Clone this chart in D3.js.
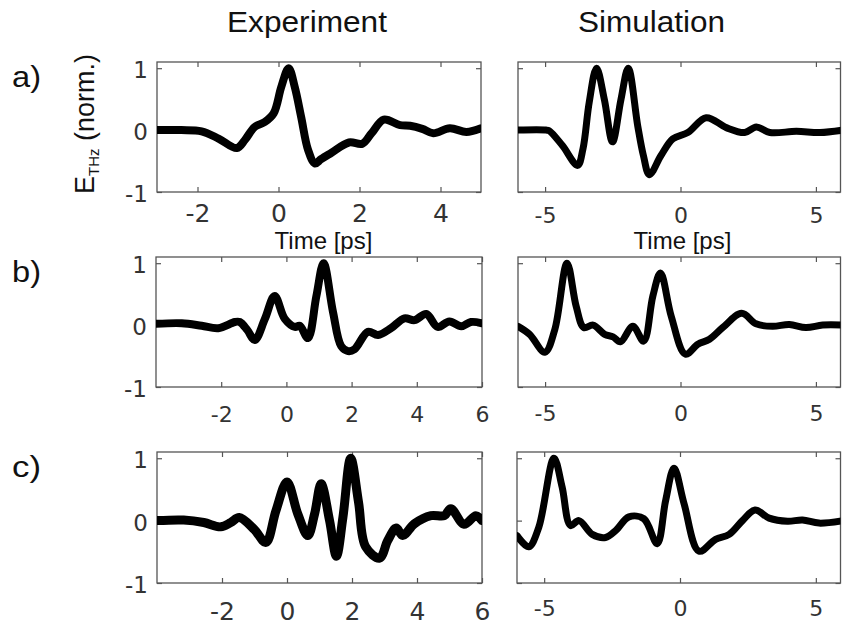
<!DOCTYPE html>
<html>
<head>
<meta charset="utf-8">
<script src="https://cdn.jsdelivr.net/npm/d3@7/dist/d3.min.js"></script>
<style>
  html, body { margin: 0; padding: 0; background: #fff; }
  svg { display: block; }
  .tick text { font-family: "DejaVu Sans", sans-serif; fill: #333; }
  .tick line { stroke: #555; }
  .lbl { font-family: "Liberation Sans", Arial, sans-serif; fill: #111; }
</style>
</head>
<body>
<svg id="chart" width="842" height="626"></svg>
<script>
// ---- THz field transients, normalised (time in ps) ----
const expA_t = [-3, -2.4, -1.9, -1.47, -1.03, -0.83, -0.59, -0.34, -0.12, 0.07, 0.25, 0.4, 0.56, 0.73, 0.9, 1.05, 1.3, 1.74, 2.07, 2.3, 2.6, 3.0, 3.25, 3.55, 3.82, 4.23, 4.64, 5];
const expA_v = [0, 0, -0.02, -0.14, -0.29, -0.16, 0.05, 0.13, 0.27, 0.7, 1.0, 0.7, 0.21, -0.32, -0.54, -0.47, -0.37, -0.2, -0.22, -0.05, 0.17, 0.08, 0.07, 0.02, -0.05, 0.03, -0.03, 0.03];

const simA_t = [-6, -4.97, -4.85, -4.36, -3.8, -3.6, -3.37, -3.1, -2.81, -2.51, -2.2, -1.93, -1.58, -1.37, -1.15, -0.72, -0.28, 0.27, 0.95, 1.69, 2.37, 2.8, 3.3, 4.28, 5.15, 6];
const simA_v = [0, 0, -0.01, -0.25, -0.57, -0.3, 0.45, 1.0, 0.49, -0.19, 0.49, 1.0, 0.07, -0.41, -0.72, -0.41, -0.14, -0.04, 0.2, 0.04, -0.04, 0.05, -0.04, -0.02, -0.04, 0];

const expB_t = [-4, -3.21, -2.6, -2.09, -1.58, -1.43, -1.2, -0.97, -0.66, -0.36, -0.05, 0.26, 0.41, 0.66, 0.92, 1.14, 1.43, 1.68, 1.89, 2.09, 2.5, 2.81, 3.21, 3.62, 3.93, 4.29, 4.64, 5.0, 5.36, 5.66, 6];
const expB_v = [0.02, 0.03, -0.01, -0.05, 0.05, 0.05, -0.08, -0.24, 0.1, 0.47, 0.1, -0.03, -0.01, -0.21, 0.47, 1.0, 0.21, -0.34, -0.42, -0.39, -0.11, -0.16, -0.05, 0.11, 0.08, 0.18, -0.03, 0.06, -0.02, 0.05, 0.03];

const simB_t = [-6, -5.57, -5.01, -4.64, -4.19, -3.85, -3.57, -3.23, -2.8, -2.49, -2.22, -1.76, -1.36, -1.02, -0.74, -0.34, 0.18, 0.64, 1.07, 1.56, 2.26, 2.79, 3.4, 4.02, 4.63, 5.25, 6];
const simB_v = [-0.02, -0.15, -0.44, -0.07, 1.0, 0.3, -0.04, 0, -0.15, -0.19, -0.27, -0.02, -0.26, 0.47, 0.84, 0.14, -0.47, -0.31, -0.23, -0.04, 0.19, 0.02, -0.02, 0.01, -0.04, 0, 0];

const expC_t = [-4, -3.18, -2.56, -2.04, -1.73, -1.47, -1.01, -0.65, -0.34, 0, 0.33, 0.64, 0.85, 1.05, 1.31, 1.52, 1.72, 1.96, 2.2, 2.42, 2.85, 3.1, 3.36, 3.56, 3.92, 4.43, 4.84, 5.04, 5.45, 5.81, 6];
const expC_v = [0, 0.01, -0.03, -0.1, -0.03, 0.05, -0.14, -0.35, 0.16, 0.62, 0.11, -0.24, 0.11, 0.59, 0, -0.57, 0.05, 1.0, 0.3, -0.42, -0.6, -0.32, -0.12, -0.24, -0.05, 0.08, 0.08, 0.19, -0.06, 0.08, 0];

const simC_t = [-6, -5.57, -5.2, -4.64, -4.34, -4.03, -3.72, -3.23, -2.74, -2.37, -1.88, -1.33, -0.84, -0.53, -0.22, 0.15, 0.7, 1.31, 1.81, 2.3, 2.76, 3.28, 3.96, 4.51, 5.12, 6];
const simC_v = [-0.24, -0.42, -0.11, 1.0, 0.54, -0.08, 0, -0.22, -0.27, -0.16, 0.06, 0.03, -0.37, 0.32, 0.84, 0.27, -0.49, -0.3, -0.22, 0, 0.17, 0.04, -0.01, 0.01, -0.04, 0];

// ---- axis ticks and labels ----
const expTicksA = [-2, 0, 2, 4];
const expTicksBC = [-2, 0, 2, 4, 6];
const simTicks = [-5, 0, 5];
const yTicks = [-1, 0, 1];
const columnTitles = ["Experiment", "Simulation"];
const rowLabels = ["a)", "b)", "c)"];
const xTitle = "Time [ps]";

// ---- panel layout ----
const panels = [
  { t: expA_t, v: expA_v, dom: [-3, 5], ticks: expTicksA, x: [157, 481], y: [62, 192], yLab: true, fs: 25, pad: 12, lw: 8, xTitle: true },
  { t: simA_t, v: simA_v, dom: [-6, 6], ticks: simTicks, x: [518, 843], y: [62, 192], yLab: false, fs: 22, pad: 15, lw: 7, xTitle: true },
  { t: expB_t, v: expB_v, dom: [-4, 6], ticks: expTicksBC, x: [156, 482], y: [257, 387], yLab: true, fs: 22, pad: 19, lw: 8 },
  { t: simB_t, v: simB_v, dom: [-6, 6], ticks: simTicks, x: [518, 843], y: [257, 387], yLab: false, fs: 22, pad: 18, lw: 7 },
  { t: expC_t, v: expC_v, dom: [-4, 6], ticks: expTicksBC, x: [157, 482], y: [452, 583], yLab: true, fs: 25, pad: 19, lw: 9 },
  { t: simC_t, v: simC_v, dom: [-6, 6], ticks: simTicks, x: [517, 843], y: [452, 583], yLab: false, fs: 22, pad: 17, lw: 7 }
];

const svg = d3.select("#chart");
const W = 842;
const plain = d => String(d);   // keep an ASCII hyphen for negatives

panels.forEach((p, i) => {
  const xs = d3.scaleLinear().domain(p.dom).range(p.x);
  const ys = d3.scaleLinear().domain([-1, 1.1]).range([p.y[1], p.y[0]]);
  const right = Math.min(p.x[1], W - 1.5);
  const g = svg.append("g");

  const clipId = "clip" + i;
  svg.append("clipPath").attr("id", clipId)
    .append("rect")
    .attr("x", p.x[0]).attr("y", p.y[0])
    .attr("width", right - p.x[0]).attr("height", p.y[1] - p.y[0]);

  // inward ticks on all four sides
  const bottom = g.append("g").attr("transform", `translate(0,${p.y[1]})`)
    .call(d3.axisBottom(xs).tickValues(p.ticks).tickSizeInner(-5).tickSizeOuter(0).tickPadding(p.pad).tickFormat(plain));
  bottom.selectAll("text").style("font-size", p.fs + "px");
  g.append("g").attr("transform", `translate(0,${p.y[0]})`)
    .call(d3.axisTop(xs).tickValues(p.ticks).tickSizeInner(-5).tickSizeOuter(0).tickFormat(""));

  const left = g.append("g").attr("transform", `translate(${p.x[0]},0)`)
    .call(d3.axisLeft(ys).tickValues(yTicks).tickSizeInner(-5).tickSizeOuter(0).tickPadding(9)
      .tickFormat(p.yLab ? plain : ""));
  left.selectAll("text").style("font-size", "23px").attr("dy", "0.42em");
  g.append("g").attr("transform", `translate(${right},0)`)
    .call(d3.axisRight(ys).tickValues(yTicks).tickSizeInner(-5).tickSizeOuter(0).tickFormat(""));

  g.selectAll(".domain").remove();
  g.selectAll(".tick line").attr("stroke", "#555").attr("stroke-width", 1.2);

  // frame
  g.append("rect")
    .attr("x", p.x[0]).attr("y", p.y[0])
    .attr("width", right - p.x[0]).attr("height", p.y[1] - p.y[0])
    .attr("fill", "none").attr("stroke", "#555").attr("stroke-width", 1.3);

  // waveform
  const pts = p.t.map((t, k) => [t, p.v[k]]);
  const line = d3.line().x(d => xs(d[0])).y(d => ys(d[1])).curve(d3.curveCatmullRom.alpha(0.5));
  g.append("path")
    .attr("clip-path", `url(#${clipId})`)
    .attr("d", line(pts))
    .attr("fill", "none").attr("stroke", "#000")
    .attr("stroke-width", p.lw).attr("stroke-linejoin", "round").attr("stroke-linecap", "round");

  if (p.xTitle) {
    g.append("text").attr("class", "lbl")
      .attr("x", xs(0) + (i === 0 ? 45 : 2)).attr("y", 249)
      .attr("text-anchor", "middle").style("font-size", "24px")
      .text(xTitle);
  }
});

// column titles
svg.append("text").attr("class", "lbl").attr("x", 227).attr("y", 32)
  .attr("textLength", 160).attr("lengthAdjust", "spacingAndGlyphs")
  .style("font-size", "29px").text(columnTitles[0]);
svg.append("text").attr("class", "lbl").attr("x", 578).attr("y", 32)
  .attr("textLength", 147).attr("lengthAdjust", "spacingAndGlyphs")
  .style("font-size", "29px").text(columnTitles[1]);

// row labels
[[87, 0], [282, 1], [477, 2]].forEach(([y, k]) => {
  svg.append("text").attr("class", "lbl").attr("x", 12).attr("y", y)
    .attr("textLength", 29).attr("lengthAdjust", "spacingAndGlyphs")
    .style("font-size", "30px").text(rowLabels[k]);
});

// y-axis title with subscript
const yt = svg.append("text").attr("class", "lbl")
  .attr("transform", "translate(94,124) rotate(-90)")
  .attr("text-anchor", "middle").style("font-size", "27px");
yt.append("tspan").text("E");
yt.append("tspan").attr("dy", 5).style("font-size", "15px").text("THz");
yt.append("tspan").attr("dy", -5).text(" (norm.)");
</script>
</body>
</html>
